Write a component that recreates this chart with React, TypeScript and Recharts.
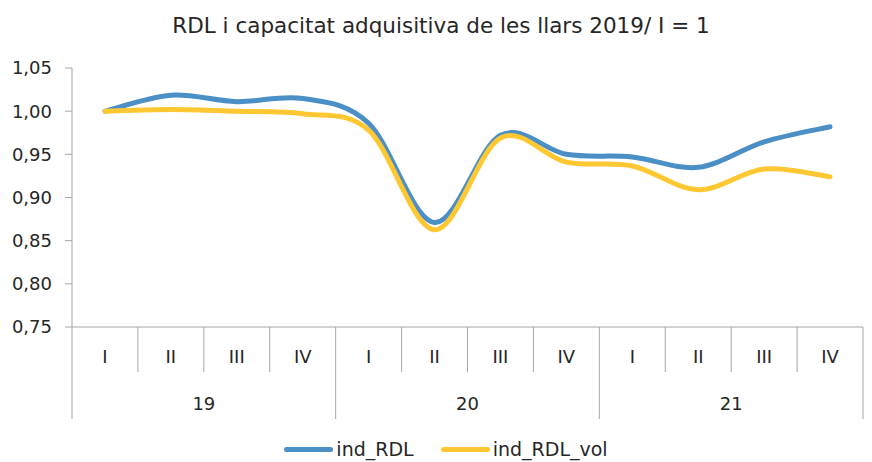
import React from "react";
import { LineChart, Line, XAxis, YAxis, Legend } from "recharts";

const quarters = ["I", "II", "III", "IV", "I", "II", "III", "IV", "I", "II", "III", "IV"];
const years = ["19", "19", "19", "19", "20", "20", "20", "20", "21", "21", "21", "21"];
const yearTicks = ["19", "20", "21"];
const indRDL = [1.0, 1.0185, 1.011, 1.0147, 0.986, 0.871, 0.972, 0.95, 0.947, 0.935, 0.9645, 0.982];
const indRDLVol = [1.0, 1.002, 1.0, 0.997, 0.978, 0.8626, 0.969, 0.941, 0.9365, 0.909, 0.933, 0.924];
const yTicks = [0.75, 0.8, 0.85, 0.9, 0.95, 1.0, 1.05];

const data = quarters.map((q, i) => ({
  q,
  yr: years[i],
  ind_RDL: indRDL[i],
  ind_RDL_vol: indRDLVol[i],
}));

const FONT = "'DejaVu Sans', sans-serif";
const AXIS = "#A6A6A6";
const TXT = "#262626";
const BLUE = "#4A8FC5";
const YELLOW = "#FFC832";

const PLOT_W = 791;
const HALF = PLOT_W / quarters.length / 2;

// smooth curve like Excel's "smoothed line" (Catmull-Rom through every point)
function smooth(context: any) {
  let pts: number[][] = [];
  return {
    areaStart() {},
    areaEnd() {},
    lineStart() {
      pts = [];
    },
    point(x: number, y: number) {
      pts.push([+x, +y]);
    },
    lineEnd() {
      const n = pts.length;
      if (!n) return;
      context.moveTo(pts[0][0], pts[0][1]);
      for (let i = 0; i < n - 1; i++) {
        const p0 = pts[Math.max(i - 1, 0)];
        const p1 = pts[i];
        const p2 = pts[i + 1];
        const p3 = pts[Math.min(i + 2, n - 1)];
        context.bezierCurveTo(
          p1[0] + (p2[0] - p0[0]) / 6,
          p1[1] + (p2[1] - p0[1]) / 6,
          p2[0] - (p3[0] - p1[0]) / 6,
          p2[1] - (p3[1] - p1[1]) / 6,
          p2[0],
          p2[1]
        );
      }
    },
  };
}

function QuarterTick(props: any) {
  const { x, y, payload, index } = props;
  const i = payload.index ?? index;
  return (
    <g>
      {i % 4 !== 0 && <line x1={x - HALF} x2={x - HALF} y1={y} y2={y + 45} stroke={AXIS} />}
      <text x={x} y={y + 36} textAnchor="middle" fontSize={18} fontFamily={FONT} fill={TXT}>
        {payload.value}
      </text>
    </g>
  );
}

function YearTick(props: any) {
  const { x, y, payload, index, visibleTicksCount } = props;
  const off = payload.offset || 0;
  const last = index === visibleTicksCount - 1;
  return (
    <g>
      <line x1={x - off} x2={x - off} y1={y - 45} y2={y + 47} stroke={AXIS} />
      {last && <line x1={x + off} x2={x + off} y1={y - 45} y2={y + 47} stroke={AXIS} />}
      <text x={x} y={y + 38} textAnchor="middle" fontSize={18} fontFamily={FONT} fill={TXT}>
        {payload.value}
      </text>
    </g>
  );
}

function LegendBox() {
  const items = [
    { name: "ind_RDL", color: BLUE },
    { name: "ind_RDL_vol", color: YELLOW },
  ];
  return (
    <div
      style={{
        display: "flex",
        justifyContent: "center",
        alignItems: "center",
        paddingLeft: 29,
        paddingTop: 21,
        fontFamily: FONT,
        fontSize: 19,
        color: TXT,
      }}
    >
      {items.map((it, i) => (
        <div key={it.name} style={{ display: "flex", alignItems: "center", marginLeft: i ? 27 : 0 }}>
          <div style={{ width: 49, height: 5, borderRadius: 3, background: it.color, marginRight: 3 }} />
          <span>{it.name}</span>
        </div>
      ))}
    </div>
  );
}

export default function App() {
  return (
    <div style={{ position: "absolute", left: 0, top: 0, width: 872, height: 462, background: "#fff" }}>
      <div
        style={{
          position: "absolute",
          top: 15,
          left: 0,
          width: 882,
          textAlign: "center",
          fontFamily: FONT,
          fontSize: 21.5,
          lineHeight: 1,
          color: TXT,
        }}
      >
        RDL i capacitat adquisitiva de les llars 2019/ I = 1
      </div>
      <LineChart width={872} height={462} data={data} margin={{ top: 68, right: 9, left: 0, bottom: 0 }}>
        <XAxis
          dataKey="q"
          interval={0}
          height={45}
          padding={{ left: HALF, right: HALF }}
          stroke={AXIS}
          tickLine={false}
          tickSize={0}
          tickMargin={0}
          tick={<QuarterTick />}
        />
        <XAxis
          xAxisId="yr"
          dataKey="yr"
          scale="band"
          allowDuplicatedCategory={false}
          ticks={yearTicks}
          interval={0}
          height={45}
          axisLine={false}
          tickLine={false}
          tickSize={0}
          tickMargin={0}
          tick={<YearTick />}
        />
        <YAxis
          width={72}
          domain={[0.75, 1.05]}
          ticks={yTicks}
          interval={0}
          stroke={AXIS}
          tickSize={7}
          tickMargin={13}
          tick={{ fontSize: 18, fontFamily: FONT, fill: TXT }}
          tickFormatter={(v: number) => v.toFixed(2).replace(".", ",")}
        />
        <Legend verticalAlign="bottom" height={45} content={<LegendBox />} />
        <Line
          type={smooth as any}
          dataKey="ind_RDL"
          stroke={BLUE}
          strokeWidth={5}
          strokeLinecap="round"
          dot={false}
          isAnimationActive={false}
        />
        <Line
          type={smooth as any}
          dataKey="ind_RDL_vol"
          stroke={YELLOW}
          strokeWidth={5}
          strokeLinecap="round"
          dot={false}
          isAnimationActive={false}
        />
      </LineChart>
    </div>
  );
}
